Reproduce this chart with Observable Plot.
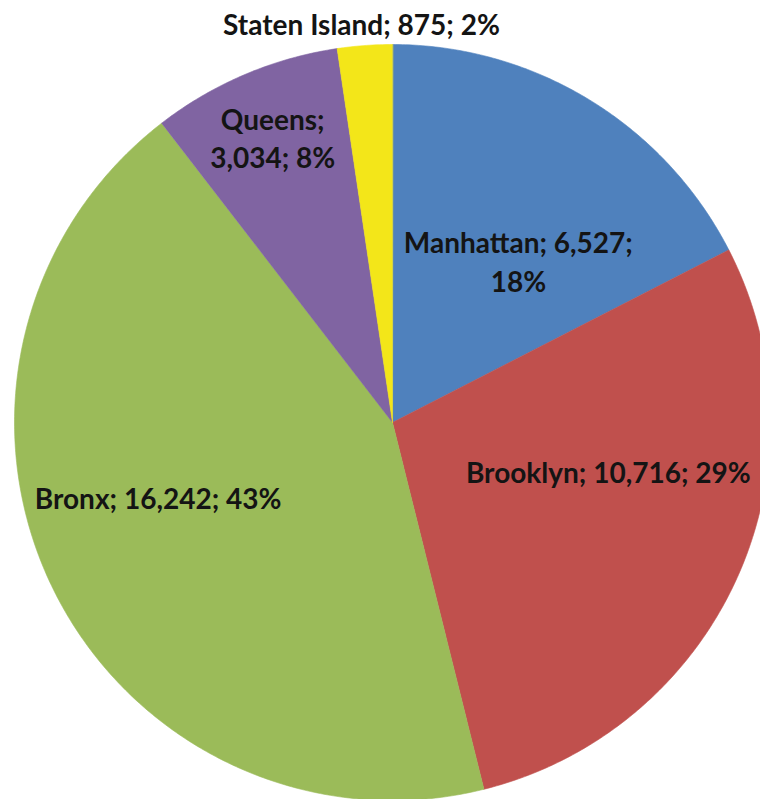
<!DOCTYPE html>
<html>
<head>
<meta charset="utf-8">
<script src="https://cdn.jsdelivr.net/npm/d3@7"></script>
<script src="https://cdn.jsdelivr.net/npm/@observablehq/plot@0.6"></script>
<style>
  html, body { margin: 0; padding: 0; background: #ffffff; }
  #chart svg { display: block; }
</style>
</head>
<body>
<div id="chart"></div>
<script>
// ---- data ----
const boroughs = ["Manhattan", "Brooklyn", "Bronx", "Queens", "Staten Island"];
const counts = [6527, 10716, 16242, 3034, 875];
const percentLabels = [18, 29, 43, 8, 2];
const sliceColors = ["#4F81BD", "#C0504D", "#9BBB59", "#8064A2", "#F3E619"];

// ---- label layout (kept apart from the data) ----
const wrapAfter = [1, null, null, 0, null];          // label part after which a line break falls
const labelAnchor = [                                 // label centre, in pie radii from the centre
  [0.333, 0.429], [0.571, -0.128], [-0.620, -0.196], [-0.317, 0.756], [-0.082, 1.058]
];

// ---- geometry ----
const W = 760, H = 799, cx = 392, cy = 422, R = 378;
const arcs = d3.pie().sort(null).value(d => d)(counts);

const slicePoints = [];
arcs.forEach((a, i) => {
  const name = boroughs[i];
  slicePoints.push({name, x: 0, y: 0});
  const n = Math.max(4, Math.ceil((a.endAngle - a.startAngle) / (Math.PI / 360)));
  for (let k = 0; k <= n; k++) {
    const t = a.startAngle + (a.endAngle - a.startAngle) * k / n;
    slicePoints.push({name, x: Math.sin(t), y: Math.cos(t)});
  }
});

const fmt = d3.format(",");
const labels = boroughs.map((name, i) => {
  const parts = [name + ";", fmt(counts[i]) + ";", percentLabels[i] + "%"];
  let text = "";
  parts.forEach((p, j) => {
    text += p;
    if (j < parts.length - 1) text += (wrapAfter[i] === j ? "\n" : " ");
  });
  return {name, text, x: labelAnchor[i][0], y: labelAnchor[i][1]};
});

const chart = Plot.plot({
  width: W,
  height: H,
  margin: 0,
  style: {background: "#ffffff", overflow: "visible"},
  x: {domain: [-cx / R, (W - cx) / R], axis: null},
  y: {domain: [(cy - H) / R, cy / R], axis: null},
  color: {domain: boroughs, range: sliceColors},
  marks: [
    Plot.line(slicePoints, {
      x: "x", y: "y", z: "name",
      fill: "name", stroke: "name", strokeWidth: 0.6,
      curve: "linear-closed"
    }),
    Plot.text(labels, {
      x: "x", y: "y", text: "text",
      fontFamily: "Lato, 'Open Sans', sans-serif",
      fontWeight: "bold",
      fontSize: 28,
      lineHeight: 1.375,
      lineAnchor: "middle",
      textAnchor: "middle",
      fill: "#141414"
    })
  ]
});

document.getElementById("chart").append(chart);
</script>
</body>
</html>
